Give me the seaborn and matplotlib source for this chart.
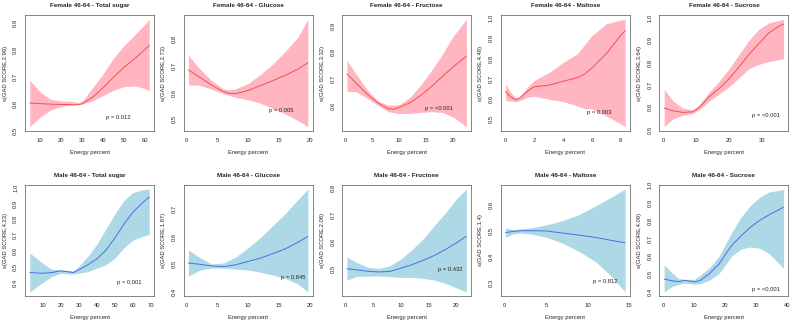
import numpy as np
import pandas as pd
import seaborn as sns
import matplotlib.pyplot as plt

sns.set_style("white")
plt.rcParams['font.family'] = ['Liberation Sans', 'DejaVu Sans']

# Panel titles and y labels
titles = ["Female 46-64 - Total sugar", "Female 46-64 - Glucose", "Female 46-64 - Fructose",
          "Female 46-64 - Maltose", "Female 46-64 - Sucrose",
          "Male 46-64 - Total sugar", "Male 46-64 - Glucose", "Male 46-64 - Fructose",
          "Male 46-64 - Maltose", "Male 46-64 - Sucrose"]
edf = ["2.99", "2.73", "3.32", "4.48", "3.64", "4.23", "1.87", "2.08", "1.4", "4.09"]
pvals = ["p = 0.012", "p = 0.005", "p = <0.001", "p = 0.003", "p = <0.001",
         "p = 0.001", "p = 0.845", "p = 0.432", "p = 0.812", "p = <0.001"]

# Energy percent (x), fitted smooth, lower and upper band, per panel
x1 = [5, 10, 15, 20, 25, 28, 30, 35, 40, 45, 50, 55, 60, 62]
fit1 = [0.603, 0.601, 0.599, 0.598, 0.597, 0.597, 0.600, 0.625, 0.660, 0.700, 0.736, 0.768, 0.803, 0.817]
lo1 = [0.515, 0.551, 0.577, 0.591, 0.595, 0.597, 0.600, 0.611, 0.631, 0.651, 0.664, 0.667, 0.657, 0.648]
hi1 = [0.688, 0.644, 0.617, 0.611, 0.609, 0.605, 0.610, 0.660, 0.712, 0.771, 0.817, 0.857, 0.897, 0.915]

x2 = [0.4, 2, 4, 6, 7, 8, 10, 12, 14, 16, 18, 19.6]
fit2 = [0.685, 0.661, 0.630, 0.604, 0.597, 0.596, 0.608, 0.626, 0.645, 0.665, 0.688, 0.712]
lo2 = [0.628, 0.628, 0.614, 0.596, 0.589, 0.582, 0.573, 0.560, 0.540, 0.520, 0.495, 0.472]
hi2 = [0.740, 0.695, 0.648, 0.614, 0.610, 0.614, 0.634, 0.668, 0.708, 0.755, 0.808, 0.875]

x3 = [0.3, 2, 4, 6, 8, 9, 10, 12, 14, 16, 18, 20, 22.5]
fit3 = [0.720, 0.686, 0.646, 0.613, 0.590, 0.589, 0.596, 0.613, 0.640, 0.673, 0.710, 0.746, 0.786]
lo3 = [0.655, 0.654, 0.630, 0.604, 0.580, 0.576, 0.573, 0.573, 0.577, 0.580, 0.577, 0.560, 0.524]
hi3 = [0.769, 0.720, 0.662, 0.620, 0.604, 0.604, 0.606, 0.633, 0.679, 0.733, 0.792, 0.859, 0.923]

x4 = [0, 0.3, 0.7, 1.0, 1.5, 2, 3, 4, 5, 5.5, 6, 7, 8, 8.3]
fit4 = [0.636, 0.612, 0.595, 0.604, 0.636, 0.660, 0.667, 0.687, 0.705, 0.723, 0.753, 0.824, 0.915, 0.938]
lo4 = [0.591, 0.589, 0.586, 0.591, 0.607, 0.612, 0.598, 0.586, 0.564, 0.550, 0.550, 0.514, 0.475, 0.461]
hi4 = [0.675, 0.636, 0.604, 0.612, 0.656, 0.691, 0.730, 0.780, 0.825, 0.870, 0.914, 0.973, 0.991, 0.995]

x5 = [0.3, 3, 6, 9, 11, 14, 17, 20, 23, 26, 29, 32, 35, 36.5]
fit5 = [0.597, 0.584, 0.577, 0.580, 0.600, 0.648, 0.685, 0.728, 0.781, 0.837, 0.885, 0.933, 0.962, 0.973]
lo5 = [0.513, 0.548, 0.564, 0.572, 0.590, 0.628, 0.660, 0.692, 0.732, 0.773, 0.792, 0.805, 0.813, 0.817]
hi5 = [0.680, 0.628, 0.596, 0.588, 0.612, 0.669, 0.717, 0.773, 0.837, 0.900, 0.949, 0.978, 0.989, 0.994]

x6 = [3, 10, 15, 20, 25, 27, 30, 35, 40, 45, 50, 55, 60, 65, 69]
fit6 = [0.466, 0.462, 0.466, 0.477, 0.470, 0.466, 0.483, 0.515, 0.551, 0.606, 0.683, 0.770, 0.845, 0.902, 0.940]
lo6 = [0.345, 0.402, 0.440, 0.462, 0.457, 0.457, 0.462, 0.472, 0.494, 0.515, 0.557, 0.621, 0.670, 0.692, 0.706]
hi6 = [0.589, 0.526, 0.487, 0.483, 0.479, 0.476, 0.505, 0.568, 0.643, 0.738, 0.834, 0.919, 0.968, 0.985, 0.990]

x7 = [0.3, 2, 4, 6, 8, 10, 12, 14, 16, 18, 19.7]
fit7 = [0.504, 0.500, 0.494, 0.491, 0.498, 0.510, 0.522, 0.538, 0.555, 0.578, 0.600]
lo7 = [0.457, 0.477, 0.486, 0.486, 0.482, 0.479, 0.471, 0.461, 0.449, 0.430, 0.400]
hi7 = [0.552, 0.526, 0.501, 0.504, 0.526, 0.559, 0.596, 0.639, 0.682, 0.731, 0.771]

x8 = [0.3, 2, 4, 6, 8, 10, 12, 14, 16, 18, 20, 21.8]
fit8 = [0.499, 0.495, 0.490, 0.487, 0.489, 0.501, 0.514, 0.530, 0.548, 0.570, 0.595, 0.620]
lo8 = [0.457, 0.470, 0.472, 0.472, 0.470, 0.467, 0.467, 0.463, 0.457, 0.445, 0.428, 0.413]
hi8 = [0.543, 0.523, 0.505, 0.500, 0.510, 0.535, 0.570, 0.610, 0.659, 0.706, 0.759, 0.795]

x9 = [0.1, 1, 2, 3, 5, 7, 9, 11, 13, 14.5]
fit9 = [0.493, 0.497, 0.500, 0.500, 0.499, 0.491, 0.483, 0.474, 0.462, 0.454]
lo9 = [0.475, 0.488, 0.491, 0.488, 0.475, 0.452, 0.420, 0.380, 0.321, 0.266]
hi9 = [0.510, 0.504, 0.507, 0.510, 0.522, 0.539, 0.562, 0.596, 0.631, 0.659]

x10 = [0.3, 3, 5, 7, 10, 12, 15, 18, 20, 22, 25, 28, 31, 34, 38.8]
fit10 = [0.472, 0.462, 0.458, 0.465, 0.456, 0.465, 0.504, 0.557, 0.609, 0.660, 0.713, 0.762, 0.800, 0.832, 0.875]
lo10 = [0.400, 0.432, 0.443, 0.450, 0.443, 0.447, 0.466, 0.504, 0.551, 0.600, 0.640, 0.652, 0.645, 0.617, 0.532]
hi10 = [0.551, 0.504, 0.475, 0.470, 0.470, 0.494, 0.538, 0.600, 0.666, 0.732, 0.817, 0.883, 0.930, 0.960, 0.975]

xticks = [[10, 20, 30, 40, 50, 60], [0, 5, 10, 15, 20], [0, 5, 10, 15, 20], [0, 2, 4, 6, 8],
          [0, 10, 20, 30], [10, 20, 30, 40, 50, 60, 70], [0, 5, 10, 15, 20],
          [0, 5, 10, 15, 20], [0, 5, 10, 15], [0, 10, 20, 30, 40]]
yticks = [[0.5, 0.6, 0.7, 0.8, 0.9], [0.5, 0.6, 0.7, 0.8], [0.6, 0.7, 0.8, 0.9],
          [0.5, 0.6, 0.7, 0.8, 0.9, 1.0], [0.5, 0.6, 0.7, 0.8, 0.9, 1.0],
          [0.4, 0.5, 0.6, 0.7, 0.8, 0.9, 1.0], [0.4, 0.5, 0.6, 0.7], [0.5, 0.6, 0.7, 0.8],
          [0.3, 0.4, 0.5, 0.6], [0.4, 0.5, 0.6, 0.7, 0.8, 0.9, 1.0]]
ppos = [(0.72, 0.12), (0.76, 0.18), (0.75, 0.19), (0.76, 0.16), (0.83, 0.13),
        (0.81, 0.12), (0.85, 0.17), (0.84, 0.24), (0.81, 0.13), (0.83, 0.06)]

xs = [x1, x2, x3, x4, x5, x6, x7, x8, x9, x10]
fits = [fit1, fit2, fit3, fit4, fit5, fit6, fit7, fit8, fit9, fit10]
los = [lo1, lo2, lo3, lo4, lo5, lo6, lo7, lo8, lo9, lo10]
his = [hi1, hi2, hi3, hi4, hi5, hi6, hi7, hi8, hi9, hi10]

W, H = 794, 323
fig = plt.figure(figsize=(W / 100, H / 100), dpi=100)

for i in range(10):
    row, col = divmod(i, 5)
    left = 25 + col * 158.6
    top, bottom = (15, 131) if row == 0 else (185, 296)
    ax = fig.add_axes([left / W, 1 - bottom / H, 129 / W, (bottom - top) / H])
    fill, line = ("#ffb6c1", "#f0504f") if row == 0 else ("#add8e6", "#4a6ee6")
    df = pd.DataFrame({"x": xs[i], "fit": fits[i], "lo": los[i], "hi": his[i]})
    ax.fill_between(df["x"], df["lo"], df["hi"], color=fill, lw=0)
    sns.lineplot(data=df, x="x", y="fit", color=line, lw=0.7, ax=ax)
    xr = max(xs[i]) - min(xs[i])
    ax.set_xlim(min(xs[i]) - 0.04 * xr, max(xs[i]) + 0.04 * xr)
    yr = max(his[i]) - min(los[i])
    ax.set_ylim(min(los[i]) - 0.04 * yr, max(his[i]) + 0.04 * yr)
    ax.set_xticks(xticks[i])
    ax.set_yticks(yticks[i])
    ax.set_yticklabels([f"{v:.1f}" for v in yticks[i]], rotation=90, va="center")
    ax.tick_params(labelsize=4.2, length=3, width=0.4, pad=2, color="#444444")
    for s in ax.spines.values():
        s.set_linewidth(0.5)
        s.set_color("#555555")
    ax.set_title(titles[i], fontsize=4.6, fontweight="bold", pad=6)
    ax.set_xlabel("Energy percent", fontsize=4.2, labelpad=5)
    ax.set_ylabel(f"s(GAD SCORE,{edf[i]})", fontsize=4.2, labelpad=4)
    ax.text(ppos[i][0], ppos[i][1], pvals[i], transform=ax.transAxes,
            fontsize=4.2, ha="center", va="center")

fig.savefig("out.png", dpi=100)
